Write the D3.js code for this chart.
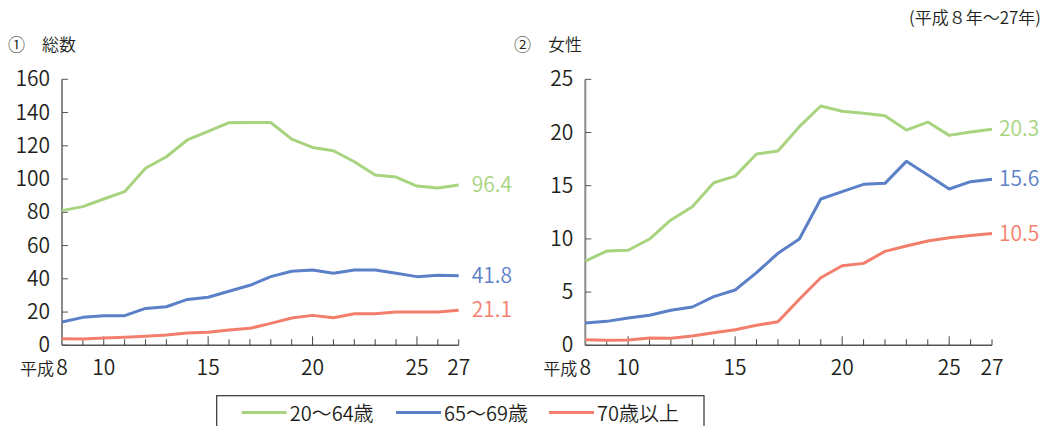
<!DOCTYPE html>
<html lang="ja">
<head>
<meta charset="utf-8">
<script src="https://cdn.jsdelivr.net/npm/d3@7"></script>
<style>
  html, body { margin: 0; padding: 0; background: #fff; }
  svg { display: block; font-family: "Noto Sans CJK JP", "Noto Sans", sans-serif; font-weight: 350; }
</style>
</head>
<body>
<svg id="chart" width="1046" height="426"></svg>
<script>
// 年次（平成）
const years = [8, 9, 10, 11, 12, 13, 14, 15, 16, 17, 18, 19, 20, 21, 22, 23, 24, 25, 26, 27];
const yearLabels = [8, 10, 15, 20, 25, 27];

// ① 総数
const totalAge20to64 = [81, 83.4, 88, 92.4, 106.5, 113.4, 123.5, 128.7, 133.9, 134, 134, 124, 119, 117, 110.4, 102.4, 101.2, 95.8, 94.6, 96.4];
const totalAge65to69 = [14, 16.8, 17.8, 17.8, 22.2, 23.2, 27.6, 28.9, 32.5, 36.1, 41.3, 44.5, 45.3, 43.3, 45.3, 45.3, 43.3, 41.3, 42.1, 41.8];
const totalAge70plus = [4.0, 3.8, 4.4, 4.8, 5.4, 6.2, 7.4, 7.8, 9.2, 10.2, 13.2, 16.4, 18, 16.6, 19, 19, 20, 20, 20, 21.1];
const totalTicks = [0, 20, 40, 60, 80, 100, 120, 140, 160];

// ② 女性
const femaleAge20to64 = [7.92, 8.86, 8.93, 9.99, 11.78, 13.03, 15.28, 15.9, 17.98, 18.26, 20.55, 22.49, 21.99, 21.8, 21.58, 20.23, 20.98, 19.73, 20.05, 20.3];
const femaleAge65to69 = [2.1, 2.25, 2.57, 2.82, 3.29, 3.6, 4.57, 5.2, 6.83, 8.65, 9.99, 13.75, 14.44, 15.13, 15.22, 17.29, 16.0, 14.69, 15.38, 15.6];
const femaleAge70plus = [0.53, 0.47, 0.5, 0.69, 0.66, 0.87, 1.18, 1.47, 1.88, 2.22, 4.32, 6.35, 7.48, 7.7, 8.83, 9.33, 9.8, 10.11, 10.33, 10.5];
const femaleTicks = [0, 5, 10, 15, 20, 25];

const seriesNames = ["20～64歳", "65～69歳", "70歳以上"];
const seriesColors = ["#a8d480", "#5b80c8", "#f47e6c"];

const svg = d3.select("#chart");
const textColor = "#231f20";

function drawPanel(cfg) {
  const g = svg.append("g");
  const x = d3.scaleLinear().domain([8, 27]).range([cfg.x0, cfg.x1]);
  const y = d3.scaleLinear().domain([0, cfg.max]).range([345.3, 79.3]);

  // title
  g.append("text").attr("x", cfg.titleX).attr("y", 51)
    .attr("font-size", 17).attr("fill", textColor)
    .text(cfg.title);

  // y axis: grey line with ticks pointing inward
  g.append("line").attr("x1", cfg.x0).attr("x2", cfg.x0)
    .attr("y1", y(cfg.max)).attr("y2", y(0))
    .attr("stroke", "#8a8a8a").attr("stroke-width", 2);
  g.selectAll(".ytick").data(cfg.ticks).join("line")
    .attr("x1", cfg.x0).attr("x2", cfg.x0 + 6)
    .attr("y1", d => y(d)).attr("y2", d => y(d))
    .attr("stroke", "#555").attr("stroke-width", 1);
  g.selectAll(".ylab").data(cfg.ticks).join("text")
    .attr("x", cfg.x0 - 12).attr("y", d => y(d) + 7)
    .attr("text-anchor", "end")
    .attr("font-size", 21).attr("fill", textColor)
    .text(d => d);

  // x axis with year ticks pointing up
  g.append("line").attr("x1", cfg.x0).attr("x2", cfg.x1)
    .attr("y1", y(0)).attr("y2", y(0))
    .attr("stroke", "#555").attr("stroke-width", 1.5);
  g.selectAll(".xtick").data(years.slice(1)).join("line")
    .attr("x1", d => x(d)).attr("x2", d => x(d))
    .attr("y1", y(0)).attr("y2", d => y(0) - (d % 5 === 0 ? 9 : 6))
    .attr("stroke", "#444").attr("stroke-width", 1);
  g.selectAll(".xlab").data(yearLabels).join("text")
    .attr("x", d => x(d)).attr("y", 375)
    .attr("text-anchor", "middle")
    .attr("font-size", 21).attr("fill", textColor)
    .text(d => d);
  g.append("text").attr("x", x(8) - 8).attr("y", 375)
    .attr("text-anchor", "end")
    .attr("font-size", 17).attr("fill", textColor)
    .text("平成");

  // series lines and end labels
  const line = d3.line().x((d, i) => x(years[i])).y(d => y(d));
  cfg.series.forEach((vals, i) => {
    g.append("path").datum(vals)
      .attr("d", line).attr("fill", "none")
      .attr("stroke", seriesColors[i]).attr("stroke-width", 3)
      .attr("stroke-linejoin", "round");
    const last = vals[vals.length - 1];
    g.append("text").attr("x", x(27) + cfg.labelOffset).attr("y", y(last) + 7)
      .attr("font-size", 21).attr("fill", seriesColors[i])
      .text(d3.format(".1f")(last));
  });
}

drawPanel({
  title: "①　総数", titleX: 8,
  x0: 62, x1: 458.7, max: 160, ticks: totalTicks,
  series: [totalAge20to64, totalAge65to69, totalAge70plus],
  labelOffset: 13
});

drawPanel({
  title: "②　女性", titleX: 514,
  x0: 585.3, x1: 992, max: 25, ticks: femaleTicks,
  series: [femaleAge20to64, femaleAge65to69, femaleAge70plus],
  labelOffset: 7
});

// period note
svg.append("text").attr("x", 1041).attr("y", 24)
  .attr("text-anchor", "end").attr("font-size", 17).attr("fill", textColor)
  .text("(平成８年～27年)");

// legend
const legend = svg.append("g");
legend.append("rect").attr("x", 216.7).attr("y", 395.7)
  .attr("width", 487.3).attr("height", 40)
  .attr("fill", "#fff").attr("stroke", "#333").attr("stroke-width", 1.2);
const legendX = [241.7, 396, 549];
seriesNames.forEach((name, i) => {
  legend.append("line")
    .attr("x1", legendX[i]).attr("x2", legendX[i] + 45)
    .attr("y1", 412.5).attr("y2", 412.5)
    .attr("stroke", seriesColors[i]).attr("stroke-width", 3);
  legend.append("text")
    .attr("x", legendX[i] + 48).attr("y", 421)
    .attr("font-size", 20).attr("fill", textColor)
    .text(name);
});
</script>
</body>
</html>
